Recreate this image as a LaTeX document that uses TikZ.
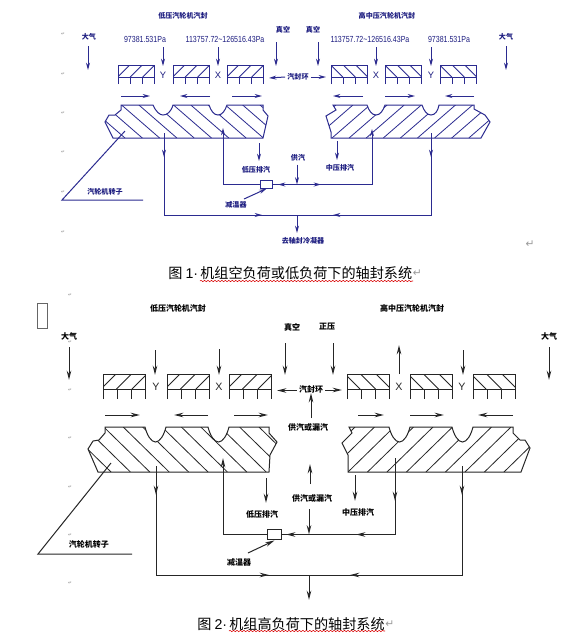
\documentclass[tikz,border=0pt]{standalone}
\usepackage{fontspec}
\setmainfont{Liberation Sans}
\newfontfamily\cjk{Noto Sans CJK SC}
\newfontfamily\djv{DejaVu Sans}
\newfontfamily\lib{Liberation Sans}
\usetikzlibrary{arrows.meta,decorations.pathmorphing}
\definecolor{navyline}{HTML}{2B2B90}
\definecolor{navytext}{HTML}{1C1C80}
\definecolor{tipred}{HTML}{A01030}
\newcommand{\arr}[3]{\coordinate (#1-a) at (#2);\coordinate (#1-b) at (#3);\draw[flow] (#1-a) -- (#1-b);}
\newcommand{\lbl}[3]{\node[lab] (#1) at (#2) {#3};}
\newcommand{\nums}[3]{\node[numlab] (#1) at (#2) {\scalebox{0.8}[1]{#3}};}
% x, top, width, mid, bottom, direction (1 = /, -1 = \), hatch spacing
\newcommand{\sealblock}[7]{%
  \begin{scope}
    \clip (#1,#2) rectangle ({#1+#3},#4);
    \foreach \k in {-1,...,5}{\draw[hatch] ({#1+#3/2+#6*(\k-2)*#7-#6*(#4-#2)/2},#4) -- ({#1+#3/2+#6*(\k-2)*#7+#6*(#4-#2)/2},#2);}
  \end{scope}
  \draw[part] (#1,#5) -- (#1,#2) -- ({#1+#3},#2) -- ({#1+#3},#5);
  \draw[part] (#1,#4) -- ({#1+#3},#4);
  \draw[part] ({#1+#3/3},#4) -- ({#1+#3/3},#5);
  \draw[part] ({#1+2*#3/3},#4) -- ({#1+2*#3/3},#5);
}
\tikzset{
  lab/.style={inner sep=0pt,font=\cjk\bfseries\fontsize{5.3}{6}\selectfont},
  numlab/.style={inner sep=0pt,font=\fontsize{6.6}{7}\selectfont},
  letter/.style={inner sep=0pt,font=\fontsize{7}{8}\selectfont},
  captext/.style={inner sep=0pt,anchor=west,text=black,font=\cjk\fontsize{10.6}{12}\selectfont},
  wave/.style={draw=red!85!black,line width=.4pt,decorate,decoration={snake,amplitude=.5pt,segment length=2.6pt}},
  pmark/.style={inner sep=0pt,text=black!45,font=\djv\fontsize{3.5}{4}\selectfont},
  bigmark/.style={inner sep=0pt,text=black!40,font=\djv\fontsize{8}{9}\selectfont},
}
\begin{document}
\begin{tikzpicture}[x=0.75pt,y=-0.75pt,line join=miter]
\useasboundingbox (0,0) rectangle (578,637);
\fill[white] (0,0) rectangle (578,637);
% paragraph marks
\foreach \n/\x/\y in {a/63/34,b/63/74,c/63/113,d/63/152,e/63/192,f/63/232,g/70/295,h/70/342,i/70/390,j/70/438,k/70/487,l/70/535,m/70/583}
  \node[pmark] (pm\n) at (\x,\y) {↵};
\node[bigmark] (pmA) at (530,244) {↵};
% ================ Figure 1 ================
\begin{scope}[
  part/.style={draw=navyline,line width=.75pt},
  hatch/.style={draw=navyline,line width=.6pt},
  flow/.style={draw=navyline,line width=.75pt,-{Stealth[length=5.5pt,width=3pt,fill=tipred]}},
  pipe/.style={draw=navyline,line width=.75pt},
  lab/.append style={text=navytext},
  numlab/.append style={text=navytext},
  letter/.append style={text=navytext}]
\foreach \x in {118,173,227}{\sealblock{\x}{65}{36.5}{77}{84}{1}{12.5}}
\foreach \x in {331,385,440}{\sealblock{\x}{65}{36.5}{77}{84}{-1}{12.5}}
% rotors
\def\rotL{(121,105) -- (153,105) .. controls (156,112) and (160,115) .. (163,115) .. controls (167,115) and (171,112) .. (173,105) -- (209,105) .. controls (211,111) and (214,115) .. (218,115) .. controls (222,115) and (225,111) .. (227,105) -- (263,105) -- (263,110) -- (268,116) -- (263,138) -- (113,138) -- (105,122) -- (109,115) -- (115,115) -- (121,110) -- cycle}
\def\rotR{(333,105) -- (367,105) .. controls (369,111) and (372,115) .. (376,115) .. controls (380,115) and (383,111) .. (385,105) -- (422,105) .. controls (424,111) and (427,115) .. (431,115) .. controls (435,115) and (438,111) .. (439,105) -- (474,105) -- (474,109) -- (485,115) -- (490,122) -- (481,138) -- (331,138) -- (331,132) -- (326,116) -- (336,110) -- cycle}
\begin{scope}
  \clip \rotL;
  \foreach \k in {-1,...,10}{\draw[hatch] ({125+\k*17.3},138) -- ({125+\k*17.3-38},105);}
\end{scope}
\begin{scope}
  \clip \rotR;
  \foreach \k in {-3,...,11}{\draw[hatch] ({332+\k*17.1},138) -- ({332+\k*17.1+38},105);}
\end{scope}
\draw[part] \rotL;
\draw[part] \rotR;
% titles
\lbl{t1l}{183,16}{低压汽轮机汽封}
\lbl{t1r}{387,16}{高中压汽轮机汽封}
\lbl{air1l}{89,37}{大气}
\lbl{air1r}{506,37}{大气}
\lbl{vac1l}{283,30}{真空}
\lbl{vac1r}{313,30}{真空}
\nums{p1a}{145,39}{97381.531Pa}
\nums{p1b}{225,39}{113757.72\textasciitilde126516.43Pa}
\nums{p1c}{370,39}{113757.72\textasciitilde126516.43Pa}
\nums{p1d}{449,39}{97381.531Pa}
\node[letter] (y1l) at (163,75) {Y};
\node[letter] (x1l) at (218,75) {X};
\node[letter] (x1r) at (376,75) {X};
\node[letter] (y1r) at (431,75) {Y};
\lbl{ring1}{298,77}{汽封环}
% downward arrows
\arr{a1}{88,46}{88,70}
\arr{a2}{506,46}{506,70}
\arr{a3}{163,47}{163,66}
\arr{a4}{218,47}{218,66}
\arr{a5}{376,47}{376,66}
\arr{a6}{431,47}{431,66}
\arr{a7}{276,42}{276,66}
\arr{a8}{318,42}{318,66}
\draw[flow] (ring1.west) ++(-2,0) coordinate (r1w) -- (269,78);
\draw[flow] (ring1.east) ++(2,0) coordinate (r1e) -- (326,77);
% axial arrows
\arr{b1}{121,96}{150,96}
\arr{b2}{210,96}{180,96}
\arr{b3}{232,96}{262,96}
\arr{b4}{363,96}{333,96}
\arr{b5}{385,96}{415,96}
\arr{b6}{474,96}{445,96}
% reducer and pipes
\node[draw=navyline,line width=.75pt,minimum width=9.6pt,minimum height=5.6pt,inner sep=0pt] (red1) at (266.5,184.5) {};
\coordinate (p1a1) at (223,128); \coordinate (p1a2) at (223,184.5);
\coordinate (p1b1) at (372,129); \coordinate (p1b2) at (372,184.5);
\draw[flow] (red1.west) -- (p1a2) -- (p1a1);
\draw[flow] (red1.east) -- (p1b2) -- (p1b1);
\arr{c1}{287,184.5}{278,184.5}
\arr{c2}{312,184.5}{321,184.5}
\coordinate (o1a) at (164,133); \coordinate (o1b) at (164,215);
\coordinate (o1c) at (431,215); \coordinate (o1d) at (431,133);
\draw[pipe] (o1a) -- (o1b) -- (o1c) -- (o1d);
\arr{c3}{164,148}{164,157}
\arr{c4}{431,148}{431,157}
\arr{c5}{253,215}{262,215}
\arr{c6}{342,215}{333,215}
\lbl{sup1}{298,158}{供汽}
\coordinate (sup1j) at (297,184.5);
\draw[flow] (sup1.south) ++(-1,3) coordinate (sup1s) -- (sup1j);
\lbl{cond1}{303,241}{去轴封冷凝器}
\coordinate (cond1j) at (297,215);
\draw[flow] (cond1j) -- (297,233);
\lbl{lp1}{256,170}{低压排汽}
\lbl{mp1}{340,168}{中压排汽}
\arr{d1}{259,143}{259,161}
\arr{d2}{337,141}{337,160}
\lbl{dt1}{236,205}{减温器}
\draw[flow] (244,199) coordinate (dt1s) -- (red1.south);
\lbl{rotor1}{105,192}{汽轮机转子}
\coordinate (l1a) at (125,131); \coordinate (l1b) at (62,200); \coordinate (l1c) at (143,200);
\draw[part] (l1a) -- (l1b) -- (l1c);
\end{scope}
% ================ Figure 2 ================
\begin{scope}[
  part/.style={draw=black!85,line width=.75pt},
  hatch/.style={draw=black!85,line width=.6pt},
  flow/.style={draw=black!85,line width=.75pt,-{Stealth[length=7pt,width=3.4pt,fill=white]}},
  pipe/.style={draw=black!85,line width=.75pt},
  lab/.append style={text=black,font=\cjk\bfseries\fontsize{6}{7}\selectfont},
  letter/.append style={text=black!85,font=\fontsize{8}{9}\selectfont}]
\foreach \x in {103,167,229}{\sealblock{\x}{374}{42}{389}{399}{1}{15.5}}
\foreach \x in {347,410,473}{\sealblock{\x}{374}{42}{389}{399}{-1}{15.5}}
\def\rotLB{(105,427) -- (145,427) .. controls (147,435) and (151,442) .. (155.5,442) .. controls (160,442) and (164,435) .. (166,427) -- (208,427) .. controls (210,435) and (214,442) .. (218.5,442) .. controls (223,442) and (227,435) .. (229,427) -- (269,427) -- (269,433) -- (277,442) -- (270,455) -- (269,472) -- (98,472) -- (88,449) -- (93,441) -- (99,440) -- (105,433) -- cycle}
\def\rotRB{(349,427) -- (389,427) .. controls (391,435) and (395,442) .. (399.5,442) .. controls (404,442) and (408,435) .. (410,427) -- (452,427) .. controls (454,435) and (458,442) .. (462.5,442) .. controls (467,442) and (471,435) .. (473,427) -- (513,427) -- (513,433) -- (520,440) -- (525,440) -- (530,448) -- (521,472) -- (348,472) -- (348,455) -- (342,443) -- (352,433) -- cycle}
\begin{scope}
  \clip \rotLB;
  \foreach \k in {-1,...,11}{\draw[hatch] ({111+\k*19.4},472) -- ({111+\k*19.4-46},427);}
\end{scope}
\begin{scope}
  \clip \rotRB;
  \foreach \k in {-3,...,11}{\draw[hatch] ({348+\k*19.5},472) -- ({348+\k*19.5+46},427);}
\end{scope}
\draw[part] \rotLB;
\draw[part] \rotRB;
\lbl{t2l}{178,308}{低压汽轮机汽封}
\lbl{t2r}{412,308}{高中压汽轮机汽封}
\lbl{air2l}{69,336}{大气}
\lbl{air2r}{549,336}{大气}
\lbl{vac2}{292,327}{真空}
\lbl{pos2}{327,327}{正压}
\node[letter] (y2l) at (156,387) {Y};
\node[letter] (x2l) at (219,387) {X};
\node[letter] (x2r) at (399,387) {X};
\node[letter] (y2r) at (462,387) {Y};
\arr{e1}{69,347}{69,380}
\arr{e2}{549,347}{549,380}
\arr{e3}{155,350}{155,375}
\arr{e4}{219,349}{219,375}
\arr{e5}{285,343}{285,375}
\arr{e6}{333,343}{333,375}
\arr{e7}{399,374}{399,345}
\arr{e8}{463,350}{463,375}
\lbl{ring2}{311,389}{汽封环}
\draw[flow] (ring2.west) ++(-2,1.5) coordinate (r2w) -- (277,390.5);
\draw[flow] (ring2.east) ++(2,1) coordinate (r2e) -- (342,390);
\lbl{sl2a}{308,427}{供汽或漏汽}
\draw[flow] (311,418) coordinate (sl2as) -- (ring2.south);
\arr{f1}{105,415}{140,415}
\arr{f2}{208,415}{174,415}
\arr{f3}{234,415}{268,415}
\arr{f4}{358,415}{384,415}
\arr{f5}{410,415}{444,415}
\arr{f6}{513,415}{478,415}
\node[draw=black!85,line width=.75pt,minimum width=11.2pt,minimum height=8.2pt,inner sep=0pt] (red2) at (274.5,534.5) {};
\coordinate (p2a1) at (223,458); \coordinate (p2a2) at (223,534.5);
\coordinate (p2b1) at (395,458); \coordinate (p2b2) at (395,534.5);
\draw[flow] (red2.west) -- (p2a2) -- (p2a1);
\draw[pipe] (red2.east) -- (p2b2) -- (p2b1);
\arr{g1}{395,488}{395,501}
\arr{g2}{365,534.5}{356,534.5}
\arr{g3}{295,534.5}{286,534.5}
\coordinate (o2a) at (156,466); \coordinate (o2b) at (156,575);
\coordinate (o2c) at (462,575); \coordinate (o2d) at (462,466);
\draw[pipe] (o2a) -- (o2b) -- (o2c) -- (o2d);
\arr{g4}{156,485}{156,495}
\arr{g5}{462,485}{462,495}
\arr{g6}{259,575}{269,575}
\arr{g7}{360,575}{350,575}
\coordinate (cond2j) at (309,575);
\draw[flow] (cond2j) -- (309,600);
\lbl{sl2b}{312,498}{供汽或漏汽}
\arr{h1}{310,484}{310,464}
\coordinate (sup2j) at (309,534.5);
\draw[flow] (309,509) coordinate (sup2s) -- (sup2j);
\lbl{lp2}{262,514}{低压排汽}
\lbl{mp2}{358,512}{中压排汽}
\arr{h2}{266,478}{266,503}
\arr{h3}{355,475}{355,501}
\lbl{dt2}{239,562}{减温器}
\draw[flow] (248,553) coordinate (dt2s) -- (red2.south);
\lbl{rotor2}{89,544}{汽轮机转子}
\coordinate (l2a) at (111,463); \coordinate (l2b) at (38,554); \coordinate (l2c) at (132,554);
\draw[part] (l2a) -- (l2b) -- (l2c);
\end{scope}
% blank box, upper left of Figure 2
\node[draw=black!60,line width=.6pt,minimum width=7.5pt,minimum height=18.7pt,inner sep=0pt] (blank) at (42,315.5) {};
% captions
\node[captext] (cap1n) at (168,273) {图 {\lib 1·}};
\node[captext] (cap1) at (200,273) {机组空负荷或低负荷下的轴封系统};
\node[bigmark,anchor=west] (cap1m) at (cap1.east) {↵};
\coordinate (w1a) at (200,281); \coordinate (w1b) at (413,281);
\draw[wave] (w1a) -- (w1b);
\node[captext] (cap2n) at (197,624) {图 {\lib 2·}};
\node[captext] (cap2) at (229,624) {机组高负荷下的轴封系统};
\node[bigmark,anchor=west] (cap2m) at (cap2.east) {↵};
\coordinate (w2a) at (229,631); \coordinate (w2b) at (385,631);
\draw[wave] (w2a) -- (w2b);
\end{tikzpicture}
\end{document}
